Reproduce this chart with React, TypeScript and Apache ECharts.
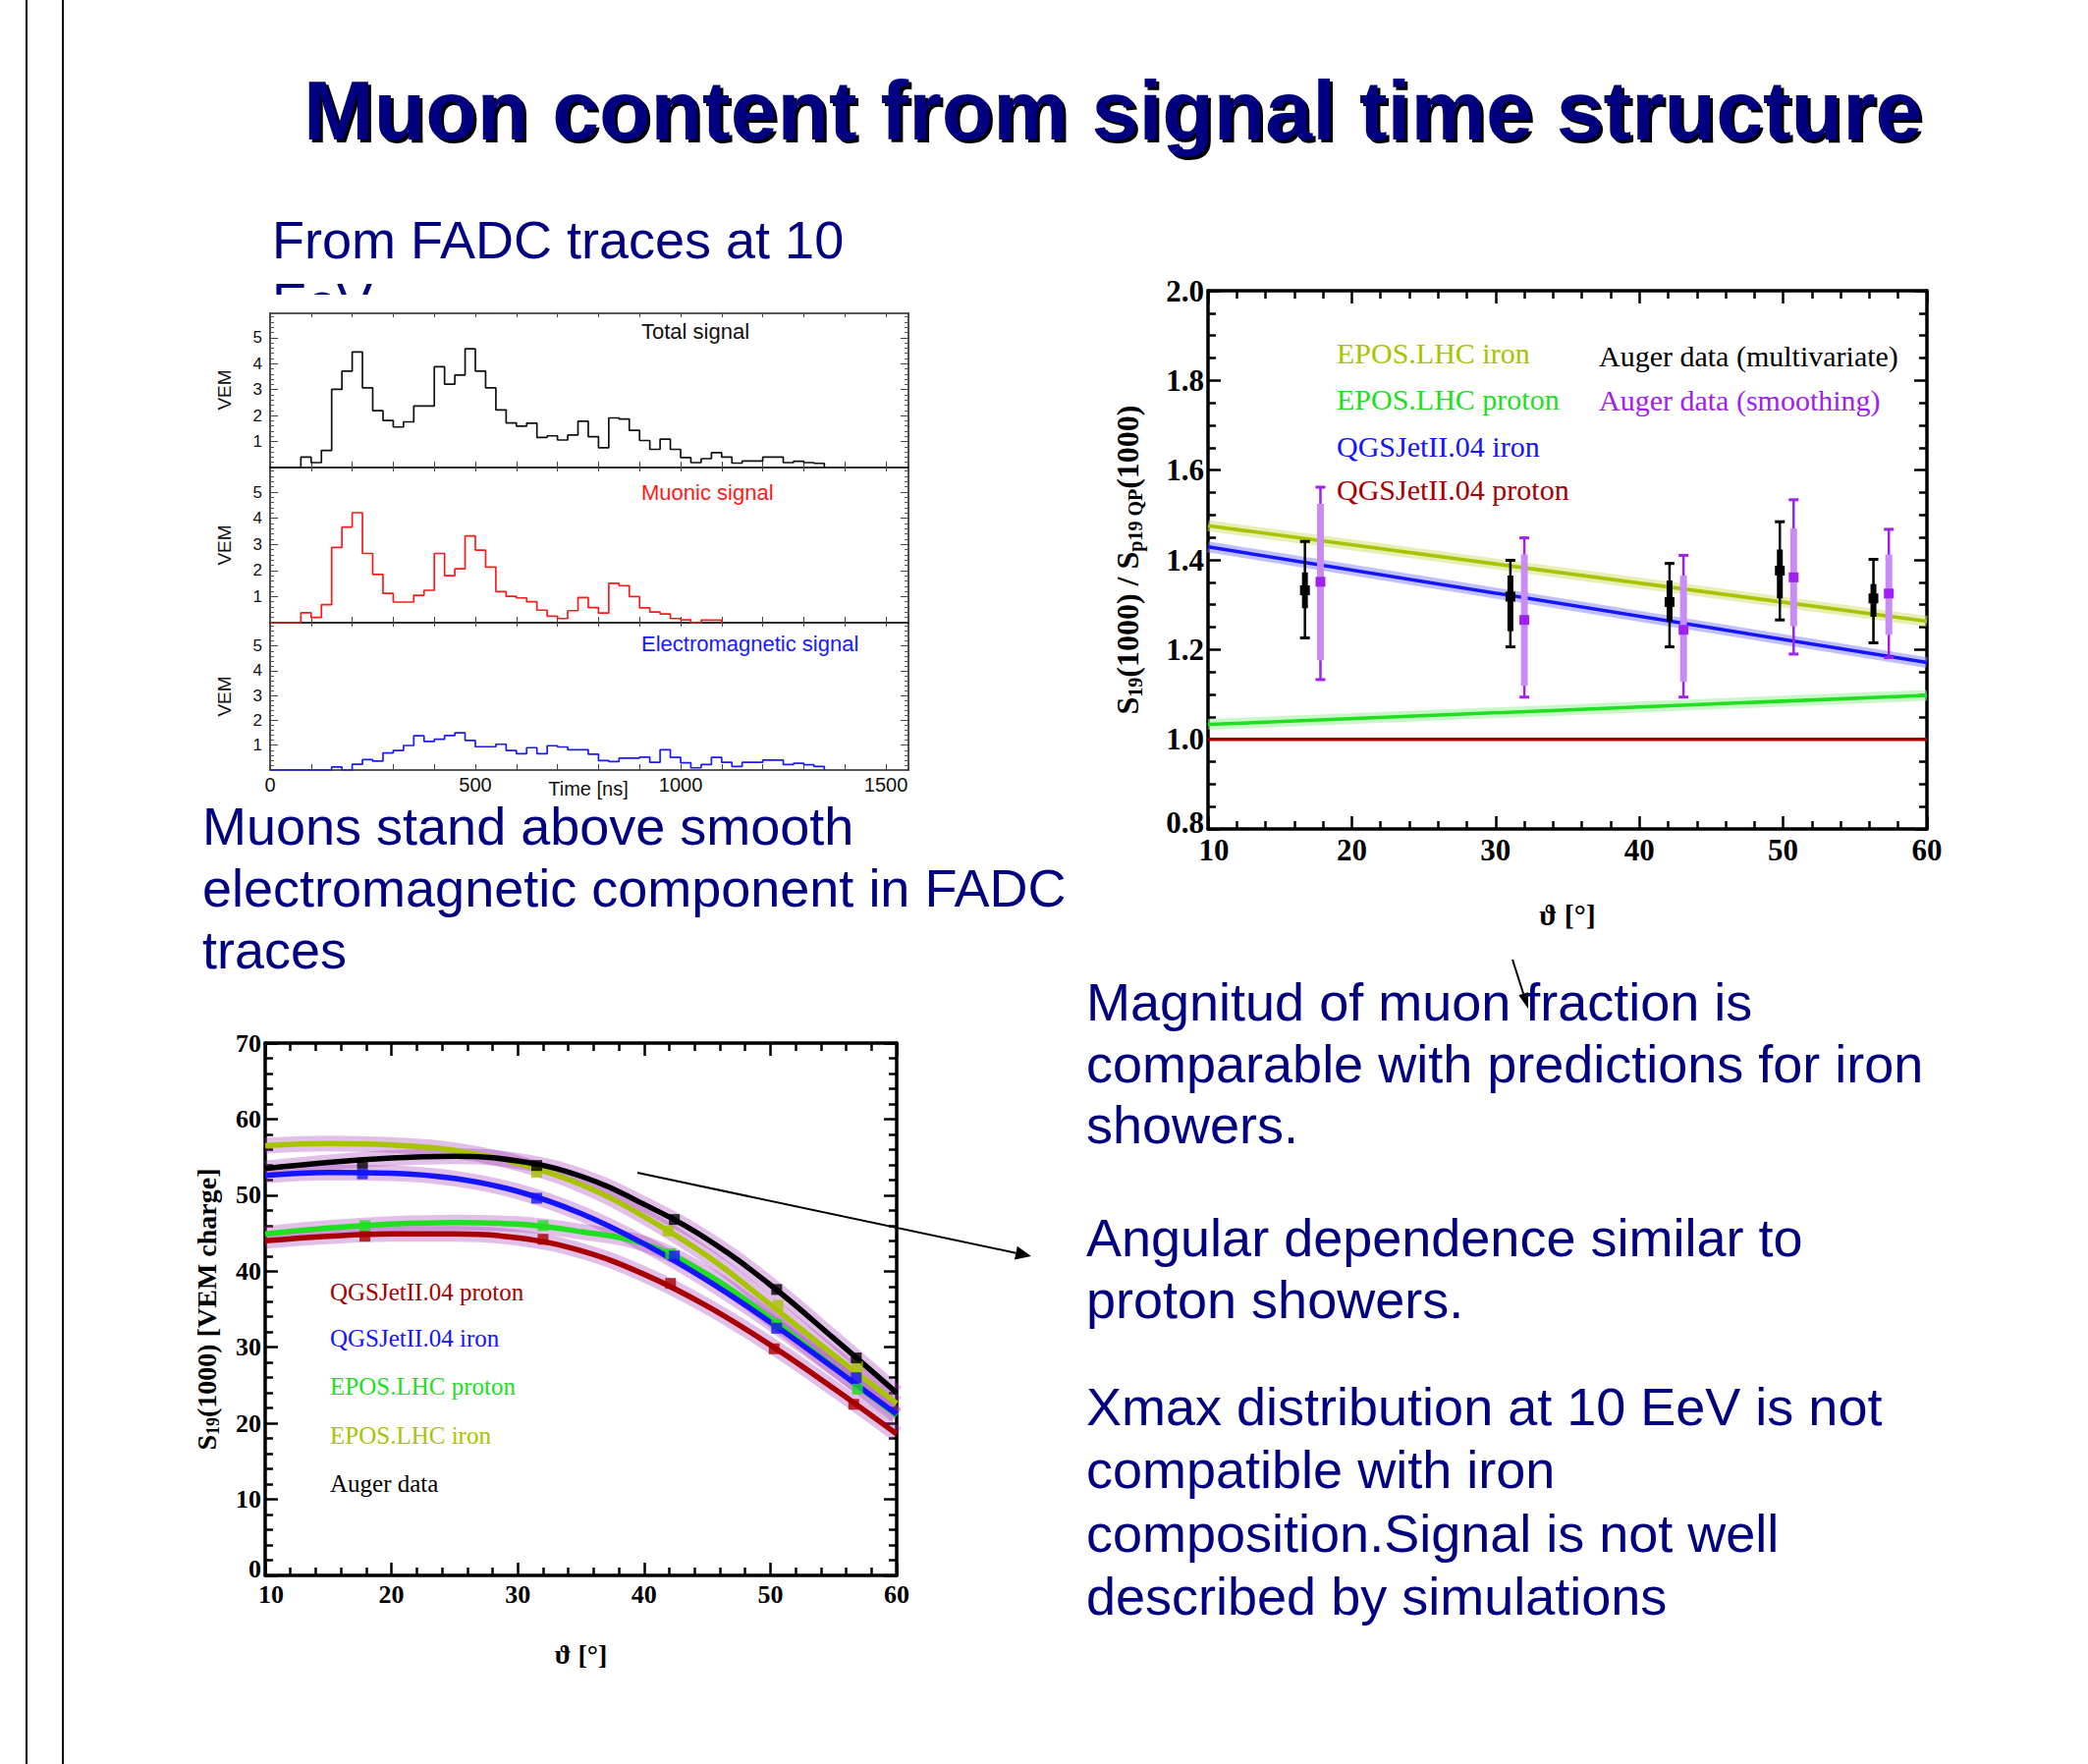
import React, { useEffect, useRef } from 'react';
import * as echarts from 'echarts';

const SANS = "'Liberation Sans', Arial, Helvetica, sans-serif";
const SERIF = "'Liberation Serif', 'Times New Roman', serif";
const NAVY = '#000080';

// ---------- FADC traces (25 ns bins starting at 0 ns), VEM ----------
const binWidthNs = 25;
const totalSignal = [
  0, 0, 0, 0.40, 0.19, 0.66, 3.01, 3.71, 4.45, 3.07,
  2.19, 1.81, 1.56, 1.76, 2.37, 2.37, 3.88, 3.21, 3.56, 4.57,
  3.71, 3.07, 2.22, 1.72, 1.59, 1.71, 1.16, 1.22, 1.06, 1.25,
  1.78, 1.19, 0.76, 1.91, 1.87, 1.43, 1.04, 0.70, 1.09, 0.70,
  0.38, 0.19, 0.34, 0.57, 0.40, 0.17, 0.25, 0.25, 0.40, 0.40,
  0.19, 0.24, 0.19, 0.16, 0,
];
const muonicSignal = [
  0, 0, 0, 0.38, 0.20, 0.69, 2.88, 3.66, 4.21, 2.65,
  1.85, 1.12, 0.79, 0.79, 1.05, 1.24, 2.65, 1.80, 2.06, 3.32,
  2.78, 2.13, 1.19, 1.01, 0.95, 0.80, 0.48, 0.25, 0.16, 0.46,
  0.96, 0.58, 0.37, 1.51, 1.42, 1.00, 0.57, 0.41, 0.33, 0.16,
  0.11, 0, 0.1, 0.1, 0,
];
const emSignal = [
  0, 0, 0, 0, 0, 0, 0.12, 0, 0.23, 0.42,
  0.36, 0.69, 0.79, 0.99, 1.38, 1.15, 1.24, 1.39, 1.50, 1.19,
  0.94, 0.94, 1.04, 0.79, 0.66, 0.90, 0.66, 0.98, 0.93, 0.82,
  0.82, 0.64, 0.38, 0.34, 0.48, 0.48, 0.52, 0.31, 0.82, 0.51,
  0.29, 0.09, 0.22, 0.51, 0.31, 0.14, 0.31, 0.31, 0.40, 0.40,
  0.22, 0.27, 0.21, 0.14, 0,
];
const timeTickLabels = [0, 500, 1000, 1500];
const vemTickLabels = [1, 2, 3, 4, 5];

// ---------- Ratio plot (top right) ----------
const ratioTheta = [10, 60];
const eposIronRatio = [1.476, 1.263];
const eposProtonRatio = [1.033, 1.098];
const qgsIronRatio = [1.429, 1.171];
const qgsProtonRatio = [1.0, 1.0];
// [theta, value, outer low, outer high, inner low, inner high]
const augerMultivariate = [
  [16.74, 1.332, 1.226, 1.441, 1.292, 1.372],
  [31.03, 1.318, 1.206, 1.399, 1.241, 1.365],
  [42.10, 1.306, 1.206, 1.392, 1.263, 1.354],
  [49.77, 1.376, 1.266, 1.485, 1.314, 1.423],
  [56.28, 1.314, 1.215, 1.401, 1.273, 1.346],
];
const augerSmoothing = [
  [17.82, 1.351, 1.133, 1.562, 1.176, 1.525],
  [32.00, 1.266, 1.094, 1.449, 1.119, 1.412],
  [43.07, 1.244, 1.094, 1.410, 1.128, 1.365],
  [50.73, 1.361, 1.190, 1.534, 1.252, 1.470],
  [57.35, 1.325, 1.182, 1.468, 1.233, 1.412],
];

// ---------- S19(1000) vs theta (bottom left) ----------
const thetaGrid = [10, 15, 20, 25, 30, 35, 40, 45, 50, 55, 60];
const augerS19 = [53.5, 54.3, 54.9, 55.1, 54.5, 52.5, 48.8, 44.2, 38.2, 31.2, 24.0];
const eposIronS19 = [56.5, 56.8, 56.6, 55.9, 54.2, 51.4, 47.2, 42.0, 35.6, 29.0, 22.6];
const qgsIronS19 = [52.6, 53.0, 52.9, 52.2, 50.5, 47.6, 43.6, 38.8, 33.3, 27.3, 21.2];
const eposProtonS19 = [44.9, 45.7, 46.2, 46.4, 46.2, 45.2, 43.6, 39.6, 33.8, 27.4, 21.0];
const qgsProtonS19 = [44.0, 44.6, 44.9, 44.9, 44.4, 42.7, 39.6, 35.4, 30.3, 24.6, 18.6];
const augerS19Pts = [[17.7, 54.2], [31.5, 53.9], [42.4, 46.8], [50.5, 37.6], [56.8, 28.6]];
const eposIronPts = [[31.5, 53.0], [41.9, 45.3], [50.6, 35.5], [56.9, 27.5]];
const qgsIronPts = [[17.7, 52.8], [31.5, 49.6], [42.4, 42.0], [50.5, 32.5], [56.8, 26.0]];
const eposProtonPts = [[17.9, 46.0], [32.0, 46.0], [42.1, 42.3], [50.5, 33.0], [56.9, 24.5]];
const qgsProtonPts = [[17.9, 44.6], [32.0, 44.2], [42.1, 38.4], [50.3, 29.8], [56.6, 22.5]];

const C_EPOS_IRON = '#a8c400';
const C_EPOS_PROTON = '#1ee01e';
const C_QGS_IRON = '#1414ff';
const C_QGS_PROTON = '#a80000';
const C_PURPLE = '#a020f0';

function T(text: string, x: number, y: number, size: number, color: string, opts: any = {}) {
  const align = opts.align || 'left';
  return {
    type: 'text', x, y, silent: true, z: opts.z ?? 10,
    rotation: opts.rotation || 0,
    style: {
      text, fill: color,
      font: `${opts.weight || 'normal'} ${size}px ${opts.family || SANS}`,
      align, verticalAlign: 'middle', textAlign: align, textVerticalAlign: 'middle',
      ...(opts.style || {}),
    },
  };
}

function tracesX(grid: number, pos: 'bottom' | 'top', labels: boolean) {
  return {
    type: 'value', gridIndex: grid, position: pos, min: 0, max: 1555, interval: 100,
    axisLine: { show: true, onZero: false, lineStyle: { color: '#222', width: 1.6 } },
    axisTick: { show: true, inside: true, length: pos === 'bottom' ? 6 : 4, lineStyle: { color: '#444', width: 1 } },
    axisLabel: {
      show: labels, customValues: timeTickLabels, fontFamily: SANS, fontSize: 20, color: '#111', margin: 5,
      formatter: (v: number) => String(Math.round(v)),
    },
    splitLine: { show: false },
  };
}
function tracesY(grid: number, pos: 'left' | 'right') {
  return {
    type: 'value', gridIndex: grid, position: pos, min: 0, max: 5.94, interval: 1,
    axisLine: { show: true, onZero: false, lineStyle: { color: '#222', width: 1.6 } },
    axisTick: { show: true, inside: true, length: 8, customValues: vemTickLabels, lineStyle: { color: '#444', width: 1 } },
    minorTick: { show: true, splitNumber: 5, length: 4, lineStyle: { color: '#555', width: 1 } },
    axisLabel: {
      show: pos === 'left', customValues: vemTickLabels, fontFamily: SANS, fontSize: 17, color: '#111', margin: 8,
      formatter: (v: number) => String(Math.round(v)),
    },
    splitLine: { show: false },
  };
}
function physAxis(kind: 'x' | 'y', grid: number, pos: string, min: number, max: number, interval: number,
  split: number, labelSize: number, showLabel: boolean, fmt: (v: number) => string, extra: any = {}) {
  return {
    type: 'value', gridIndex: grid, position: pos, min, max, interval,
    axisLine: { show: true, onZero: false, lineStyle: { color: '#000', width: 3.5 } },
    axisTick: { show: true, inside: true, length: 13, lineStyle: { color: '#000', width: 2.5 } },
    minorTick: { show: true, splitNumber: split, length: 8, lineStyle: { color: '#000', width: 2.5 } },
    axisLabel: {
      show: showLabel, fontFamily: SERIF, fontWeight: 'bold', fontSize: labelSize, color: '#000',
      margin: kind === 'x' ? 6 : 4, formatter: fmt,
      rich: {
        ylo: { fontFamily: SERIF, fontWeight: 'bold', fontSize: labelSize, color: '#000', padding: [0, 0, 14, 0] },
        xlo: { fontFamily: SERIF, fontWeight: 'bold', fontSize: labelSize, color: '#000', padding: [0, 0, 0, 12] },
      },
    },
    splitLine: { show: false },
    ...extra,
  };
}

function histSeries(vals: number[], xi: number, yi: number, color: string) {
  return {
    type: 'line', xAxisIndex: xi, yAxisIndex: yi, step: 'end', symbol: 'none', showSymbol: false,
    data: vals.map((v, i) => [i * binWidthNs, v]),
    lineStyle: { color, width: 1.7 }, z: 3, silent: true,
  };
}

function ratioLines(vals: number[], color: string, band: string | null) {
  const data = ratioTheta.map((t, i) => [t, vals[i]]);
  const out: any[] = [];
  if (band) out.push({ type: 'line', xAxisIndex: 6, yAxisIndex: 6, data, symbol: 'none', lineStyle: { color: band, width: 11, opacity: 0.55 }, z: 2, silent: true });
  out.push({ type: 'line', xAxisIndex: 6, yAxisIndex: 6, data, symbol: 'none', lineStyle: { color, width: 3.5 }, z: 3, silent: true });
  return out;
}

function errorBars(data: number[][], color: string, inner: string, innerW: number) {
  return {
    type: 'custom', xAxisIndex: 6, yAxisIndex: 6, coordinateSystem: 'cartesian2d', z: 6, silent: true,
    encode: { x: 0, y: 1 },
    data,
    renderItem: (_p: any, api: any) => {
      const x = api.value(0);
      const c = api.coord([x, api.value(1)]);
      const lo = api.coord([x, api.value(2)]);
      const hi = api.coord([x, api.value(3)]);
      const ilo = api.coord([x, api.value(4)]);
      const ihi = api.coord([x, api.value(5)]);
      return {
        type: 'group',
        children: [
          { type: 'line', shape: { x1: lo[0], y1: lo[1], x2: hi[0], y2: hi[1] }, style: { stroke: color, lineWidth: 2.5 } },
          { type: 'line', shape: { x1: lo[0] - 5, y1: lo[1], x2: lo[0] + 5, y2: lo[1] }, style: { stroke: color, lineWidth: 3 } },
          { type: 'line', shape: { x1: hi[0] - 5, y1: hi[1], x2: hi[0] + 5, y2: hi[1] }, style: { stroke: color, lineWidth: 3 } },
          { type: 'line', shape: { x1: ilo[0], y1: ilo[1], x2: ihi[0], y2: ihi[1] }, style: { stroke: inner, lineWidth: innerW } },
          { type: 'rect', shape: { x: c[0] - 5, y: c[1] - 5, width: 10, height: 10 }, style: { fill: color } },
        ],
      };
    },
  };
}

function s19Curve(vals: number[], color: string) {
  const data = thetaGrid.map((t, i) => [t, vals[i]]);
  return [
    { type: 'line', xAxisIndex: 8, yAxisIndex: 8, smooth: 0.4, data, symbol: 'none', lineStyle: { color: 'rgba(165,60,185,0.33)', width: 16 }, z: 2, silent: true },
    { type: 'line', xAxisIndex: 8, yAxisIndex: 8, smooth: 0.4, data, symbol: 'none', lineStyle: { color, width: 5.5 }, z: 3, silent: true },
  ];
}
function s19Markers(pts: number[][], color: string) {
  return { type: 'scatter', xAxisIndex: 8, yAxisIndex: 8, data: pts, symbol: 'rect', symbolSize: 11, itemStyle: { color }, z: 5, silent: true };
}

function arrow(x1: number, y1: number, x2: number, y2: number, headLen: number, headHalf: number) {
  const dx = x2 - x1, dy = y2 - y1;
  const L = Math.sqrt(dx * dx + dy * dy);
  const ux = dx / L, uy = dy / L;
  const bx = x2 - ux * headLen, by = y2 - uy * headLen;
  return [
    { type: 'line', silent: true, z: 12, shape: { x1, y1, x2: bx, y2: by }, style: { stroke: '#000', lineWidth: 2 } },
    { type: 'polygon', silent: true, z: 12, shape: { points: [[x2, y2], [bx - uy * headHalf, by + ux * headHalf], [bx + uy * headHalf, by - ux * headHalf]] }, style: { fill: '#000' } },
  ];
}

function buildOption() {
  const grids = [
    { left: 275, top: 319, width: 650, height: 157 },
    { left: 275, top: 476, width: 650, height: 158 },
    { left: 275, top: 634, width: 650, height: 150 },
    { left: 1230, top: 296, width: 732, height: 548 },
    { left: 270, top: 1062, width: 643, height: 542 },
  ].map((g) => ({ ...g, containLabel: false, outerBoundsMode: 'none', show: false }));

  const fmtX = (v: number) => (Math.round(v) === 10 ? '{xlo|10}' : String(Math.round(v)));
  const fmtRatio = (v: number) => (Math.abs(v - 0.8) < 1e-6 ? '{ylo|0.8}' : v.toFixed(1));
  const fmtS19 = (v: number) => (Math.round(v) === 0 ? '{ylo|0}' : String(Math.round(v)));
  const fmtInt = (v: number) => String(Math.round(v));
  const serifName = { fontFamily: SERIF, fontWeight: 'bold', fontSize: 30, color: '#000' };

  const xAxis = [
    tracesX(0, 'bottom', false), tracesX(0, 'top', false),
    tracesX(1, 'bottom', false), tracesX(1, 'top', false),
    tracesX(2, 'bottom', true), tracesX(2, 'top', false),
    physAxis('x', 3, 'bottom', 10, 60, 10, 5, 31, true, fmtX, {
      name: 'ϑ [°]', nameLocation: 'middle', nameGap: 72, nameTextStyle: serifName,
    }),
    physAxis('x', 3, 'top', 10, 60, 10, 5, 31, false, fmtInt),
    physAxis('x', 4, 'bottom', 10, 60, 10, 5, 26, true, fmtX, {
      name: 'ϑ [°]', nameLocation: 'middle', nameGap: 66, nameTextStyle: { ...serifName, fontSize: 28 },
    }),
    physAxis('x', 4, 'top', 10, 60, 10, 5, 26, false, fmtInt),
  ];
  const yAxis = [
    tracesY(0, 'left'), tracesY(0, 'right'),
    tracesY(1, 'left'), tracesY(1, 'right'),
    tracesY(2, 'left'), tracesY(2, 'right'),
    physAxis('y', 3, 'left', 0.8, 2.0, 0.2, 4, 31, true, fmtRatio, {
      name: '{s|S}{b|19}{s|(1000) / S}{b|p19 QP}{s|(1000)}', nameLocation: 'middle', nameGap: 64,
      nameTextStyle: {
        ...serifName, fontSize: 32,
        rich: {
          s: { fontFamily: SERIF, fontWeight: 'bold', fontSize: 32, color: '#000' },
          b: { fontFamily: SERIF, fontWeight: 'bold', fontSize: 20, color: '#000', verticalAlign: 'bottom', lineHeight: 36 },
        },
      },
    }),
    physAxis('y', 3, 'right', 0.8, 2.0, 0.2, 4, 31, false, fmtInt),
    physAxis('y', 4, 'left', 0, 70, 10, 5, 26, true, fmtS19, {
      name: '{s|S}{b|19}{s|(1000) [VEM charge]}', nameLocation: 'middle', nameGap: 44,
      nameTextStyle: {
        ...serifName, fontSize: 28,
        rich: {
          s: { fontFamily: SERIF, fontWeight: 'bold', fontSize: 28, color: '#000' },
          b: { fontFamily: SERIF, fontWeight: 'bold', fontSize: 18, color: '#000', verticalAlign: 'bottom', lineHeight: 32 },
        },
      },
    }),
    physAxis('y', 4, 'right', 0, 70, 10, 5, 26, false, fmtInt),
  ];

  const series: any[] = [
    histSeries(totalSignal, 0, 0, '#111111'),
    histSeries(muonicSignal, 2, 2, '#ff1a1a'),
    histSeries(emSignal, 4, 4, '#1a1aff'),
    ...ratioLines(qgsProtonRatio, C_QGS_PROTON, null),
    ...ratioLines(eposProtonRatio, C_EPOS_PROTON, '#9cf09c'),
    ...ratioLines(qgsIronRatio, C_QGS_IRON, '#8c8cff'),
    ...ratioLines(eposIronRatio, C_EPOS_IRON, '#d4e27a'),
    errorBars(augerMultivariate, '#000000', '#000000', 6),
    errorBars(augerSmoothing, C_PURPLE, '#c98cf7', 7),
    ...s19Curve(qgsProtonS19, C_QGS_PROTON),
    ...s19Curve(eposProtonS19, C_EPOS_PROTON),
    ...s19Curve(qgsIronS19, C_QGS_IRON),
    ...s19Curve(eposIronS19, C_EPOS_IRON),
    ...s19Curve(augerS19, '#000000'),
    s19Markers(qgsProtonPts, C_QGS_PROTON),
    s19Markers(eposProtonPts, C_EPOS_PROTON),
    s19Markers(qgsIronPts, C_QGS_IRON),
    s19Markers(eposIronPts, C_EPOS_IRON),
    s19Markers(augerS19Pts, '#000000'),
  ];

  const body = 54;
  const elements: any[] = [
    { type: 'line', silent: true, shape: { x1: 27, y1: 0, x2: 27, y2: 1796 }, style: { stroke: '#000', lineWidth: 2 } },
    { type: 'line', silent: true, shape: { x1: 64, y1: 0, x2: 64, y2: 1796 }, style: { stroke: '#000', lineWidth: 2 } },
    // title with drop shadow (shadow drawn as an offset copy underneath)
    T('Muon content from signal time structure', 312, 115, 86, '#000000', { weight: 'bold', z: 9 }),
    T('Muon content from signal time structure', 309, 112, 86, NAVY, { weight: 'bold', z: 10 }),
    T('From FADC traces at 10', 277, 244, body, NAVY),
    // second line of the subtitle, mostly hidden behind the traces figure (as in the slide)
    T('EeV', 277, 307, body, NAVY, { z: -3 }),
    { type: 'rect', silent: true, z: -2, shape: { x: 240, y: 300, width: 700, height: 40 }, style: { fill: '#fff' } },

    T('VEM', 228, 397, 19, '#111', { rotation: Math.PI / 2, align: 'center' }),
    T('VEM', 228, 555, 19, '#111', { rotation: Math.PI / 2, align: 'center' }),
    T('VEM', 228, 709, 19, '#111', { rotation: Math.PI / 2, align: 'center' }),
    T('Total signal', 653, 337, 22, '#111'),
    T('Muonic signal', 653, 501, 22, '#ff1a1a'),
    T('Electromagnetic signal', 653, 655, 22, '#1a1aff'),
    T('Time [ns]', 599, 803, 20, '#111', { align: 'center' }),

    T('Muons stand above smooth', 206, 841, body, NAVY),
    T('electromagnetic component in FADC', 206, 904, body, NAVY),
    T('traces', 206, 967, body, NAVY),

    T('EPOS.LHC iron', 1361, 359, 30, C_EPOS_IRON, { family: SERIF }),
    T('EPOS.LHC proton', 1361, 406, 30, C_EPOS_PROTON, { family: SERIF }),
    T('QGSJetII.04 iron', 1361, 454, 30, C_QGS_IRON, { family: SERIF }),
    T('QGSJetII.04 proton', 1361, 498, 30, C_QGS_PROTON, { family: SERIF }),
    T('Auger data (multivariate)', 1628, 362, 30, '#000', { family: SERIF }),
    T('Auger data (smoothing)', 1628, 407, 30, C_PURPLE, { family: SERIF }),

    T('QGSJetII.04 proton', 336, 1315, 25, C_QGS_PROTON, { family: SERIF }),
    T('QGSJetII.04 iron', 336, 1362, 25, C_QGS_IRON, { family: SERIF }),
    T('EPOS.LHC proton', 336, 1411, 25, C_EPOS_PROTON, { family: SERIF }),
    T('EPOS.LHC iron', 336, 1461, 25, C_EPOS_IRON, { family: SERIF }),
    T('Auger data', 336, 1510, 25, '#000', { family: SERIF }),

    T('Magnitud of muon fraction is', 1106, 1020, body, NAVY),
    T('comparable with predictions for iron', 1106, 1083, body, NAVY),
    T('showers.', 1106, 1145, body, NAVY),
    T('Angular dependence similar to', 1106, 1260, body, NAVY),
    T('proton showers.', 1106, 1323, body, NAVY),
    T('Xmax distribution at 10 EeV is not', 1106, 1432, body, NAVY),
    T('compatible with iron', 1106, 1496, body, NAVY),
    T('composition.Signal is not well', 1106, 1561, body, NAVY),
    T('described by simulations', 1106, 1625, body, NAVY),

    ...arrow(1540, 977, 1556, 1027, 16, 5),
    ...arrow(649, 1194, 1050, 1279, 16, 7),
  ];

  return {
    animation: false,
    backgroundColor: '#ffffff',
    grid: grids,
    xAxis,
    yAxis,
    series,
    graphic: { elements },
  };
}

export default function App() {
  const ref = useRef<HTMLDivElement>(null);
  useEffect(() => {
    if (!ref.current) return;
    const chart = echarts.init(ref.current, null, { renderer: 'svg', width: 2126, height: 1796 });
    chart.setOption(buildOption() as any);
    return () => chart.dispose();
  }, []);
  return (
    <div
      ref={ref}
      style={{ position: 'absolute', left: 0, top: 0, width: 2126, height: 1796, background: '#fff' }}
    />
  );
}
